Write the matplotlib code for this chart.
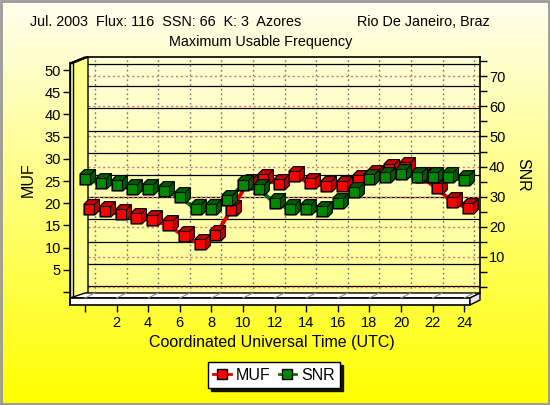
import numpy as np
import matplotlib
matplotlib.use("Agg")
import matplotlib.pyplot as plt
from matplotlib.path import Path
from matplotlib.patches import Polygon, Rectangle
from matplotlib.lines import Line2D
import matplotlib.transforms as mtrans

plt.rcParams['font.family'] = ['Liberation Sans', 'DejaVu Sans']

# ---------------- data ----------------
hours = list(range(0, 25))
muf = [18.2, 17.7, 17.0, 16.1, 15.7, 14.5, 12.1, 10.3, 12.3, 17.9, 23.8, 24.9, 23.8,
       25.6, 24.0, 23.3, 23.3, 24.7, 25.8, 27.2, 27.6, 25.4, 22.9, 19.7, 18.4]
snr = [37.9, 36.5, 35.9, 34.6, 34.6, 33.9, 31.9, 27.9, 27.9, 30.9, 35.9, 34.6, 29.9,
       27.9, 27.9, 27.2, 29.9, 33.6, 37.9, 38.5, 39.5, 38.5, 38.5, 38.5, 37.5]
muf_ticks = list(range(0, 51, 5))
snr_ticks = list(range(0, 71, 10))
snr_minor = list(range(5, 80, 10))
hour_ticks = list(range(0, 25, 2))
title_left = "Jul. 2003  Flux: 116  SSN: 66  K: 3  Azores"
title_right = "Rio De Janeiro, Braz"
title2 = "Maximum Usable Frequency"
xlabel = "Coordinated Universal Time (UTC)"
series_names = ["MUF", "SNR"]

W, H = 550, 405
fig = plt.figure(figsize=(W / 100, H / 100), dpi=100)


def fpos(x0, x1, ytop, ybot):
    return [x0 / W, 1 - ybot / H, (x1 - x0) / W, (ybot - ytop) / H]


# ---------------- background ----------------
bg = fig.add_axes([0, 0, 1, 1], zorder=0)
bg.set_xlim(0, W)
bg.set_ylim(H, 0)
bg.axis('off')
top_c = np.array([255, 254, 240]) / 255
bot_c = np.array([255, 255, 0]) / 255
t = np.linspace(0, 1, 256)[:, None, None]
grad = top_c * (1 - t) + bot_c * t
bg.imshow(grad, extent=[0, W, H, 0], aspect='auto', zorder=0)
bg.add_patch(Rectangle((1, 1), W - 2.5, H - 2.5, fill=False, ec='#9a9a9a', lw=2, zorder=1))

# ---------------- back wall ----------------
axb = fig.add_axes(fpos(88, 480, 57, 293), zorder=1)
axb.set_xlim(-0.443, 24.37)
axb.set_ylim(-1.577, 51.58)
t2 = np.linspace(0, 1, 128)[:, None, None]
wall_top = np.array([255, 255, 215]) / 255
wall_bot = np.array([255, 255, 150]) / 255
wgrad = wall_top * (1 - t2) + wall_bot * t2
axb.imshow(wgrad, extent=[-0.443, 24.37, -1.577, 51.58], origin='upper',
           aspect='auto', zorder=0)
axb.set_xticks(hour_ticks)
axb.set_yticks(muf_ticks)
axb.grid(axis='y', color='black', lw=0.9, ls='-')
axb.grid(axis='x', color='#707070', lw=1.0, ls=(0, (1.2, 2.2)))
axb.set_axisbelow(False)
axb.tick_params(length=0, labelbottom=False, labelleft=False)
for s in ['left', 'bottom', 'right']:
    axb.spines[s].set_visible(False)
axb.spines['top'].set_linewidth(1.2)

axb2 = axb.twinx()
axb2.set_zorder(2)
axb2.set_ylim(-1.99, 76.41)
axb2.set_yticks(snr_ticks)
axb2.set_yticks(snr_minor, minor=True)
axb2.set_yticklabels(['' if v == 0 else str(v) for v in snr_ticks])
axb2.grid(axis='y', which='major', color='#e07070', lw=1.0, ls=(0, (1.5, 2.0)))
axb2.tick_params(axis='y', which='both', direction='out', length=5, width=1,
                 labelsize=10.5, pad=1.5)
for s in ['left', 'bottom', 'top']:
    axb2.spines[s].set_visible(False)
axb2.spines['right'].set_linewidth(1.2)
axb2.patch.set_visible(False)

# ---------------- floor & left wall ----------------
deco = fig.add_axes([0, 0, 1, 1], zorder=3)
deco.set_xlim(0, W)
deco.set_ylim(H, 0)
deco.axis('off')
deco.patch.set_visible(False)
# left wall slab
deco.add_patch(Polygon([(73, 63), (88, 57), (88, 293), (73, 298)], closed=True,
                       fc='#ffff8c', ec='black', lw=1))
deco.add_patch(Polygon([(70, 63), (73, 63), (88, 57), (85, 57)], closed=True,
                       fc='#ffffc0', ec='black', lw=1))
deco.add_patch(Polygon([(70, 63), (73, 63), (73, 298), (70, 298)], closed=True,
                       fc='#ffffb0', ec='black', lw=1))
# floor slab
deco.add_patch(Polygon([(70, 298), (470, 298), (480, 293), (85, 293)], closed=True,
                       fc='white', ec='black', lw=1))
deco.add_patch(Polygon([(70, 298), (470, 298), (470, 305), (70, 305)], closed=True,
                       fc='white', ec='black', lw=1.2))
deco.add_patch(Polygon([(470, 298), (480, 293), (480, 300), (470, 305)], closed=True,
                       fc='#e8e8e8', ec='black', lw=1))

# ---------------- front axes (MUF) ----------------
ax = fig.add_axes(fpos(70, 470, 63, 305), zorder=4)
ax.set_xlim(-0.949, 24.37)
ax.set_ylim(-2.93, 51.58)
ax.patch.set_visible(False)
for s in ['top', 'right', 'bottom']:
    ax.spines[s].set_visible(False)
ax.spines['left'].set_bounds(-2.93, 51.58)
ax.spines['left'].set_linewidth(1.2)
ax.set_yticks(muf_ticks)
ax.set_yticklabels(['' if v == 0 else str(v) for v in muf_ticks])
ax.set_xticks(hour_ticks)
ax.set_xticklabels(['' if v == 0 else str(v) for v in hour_ticks])
ax.tick_params(axis='y', direction='out', length=5, width=1, labelsize=10.5, pad=1.5)
ax.tick_params(axis='x', direction='out', length=5, width=1, labelsize=10.5, pad=3,
               colors='black')

# floor grid marks (depth lines at each even hour)
for h in hour_ticks:
    p0 = ax.transData.transform((h, 0))
    deco_pts = deco.transData.inverted().transform([p0, p0 + np.array([10, 5])])
    deco.plot([deco_pts[0][0], deco_pts[1][0]], [298, 293], color='#909090', lw=0.8)

axg = ax.twinx()
axg.set_zorder(5)
axg.set_ylim(-3.99, 76.41)
axg.axis('off')

# ---------------- cube markers ----------------
d = 0.4
hex_path = Path([(-0.5, -0.5), (0.5, -0.5), (0.5 + d, -0.5 + d), (0.5 + d, 0.5 + d),
                 (-0.5 + d, 0.5 + d), (-0.5, 0.5), (-0.5, -0.5)],
                [Path.MOVETO] + [Path.LINETO] * 5 + [Path.CLOSEPOLY])
diag_path = Path([(0.5, 0.5), (0.5 + d, 0.5 + d)], [Path.MOVETO, Path.LINETO])
ms_f = 7.9
ms_c = ms_f * (0.5 + d) / 0.5


def cubes(a, x, y, face, side, line, trans):
    a.plot(x, y, color=line, lw=2.8, transform=trans, zorder=2, solid_capstyle='round',
           clip_on=False)
    a.plot(x, y, ls='none', marker=hex_path, ms=ms_c, mfc=side, mec='black', mew=0.8,
           transform=trans, zorder=3, clip_on=False)
    a.plot(x, y, ls='none', marker='s', ms=ms_f, mfc=face, mec='black', mew=0.8,
           transform=trans, zorder=4, clip_on=False)
    a.plot(x, y, ls='none', marker=diag_path, ms=ms_c, mec='black', mew=0.8,
           transform=trans, zorder=5, clip_on=False)


tr_red = mtrans.offset_copy(ax.transData, fig=fig, x=4, y=2.4, units='dots')
cubes(ax, hours, muf, '#ff0000', '#c40000', '#e00000', tr_red)
cubes(axg, hours, snr, '#008a00', '#005c00', '#007a00', axg.transData)

# ---------------- texts ----------------
fig.text(30 / W, 1 - 22 / H, title_left, ha='left', va='center', fontsize=10.35)
fig.text(357 / W, 1 - 22 / H, title_right, ha='left', va='center', fontsize=10.35)
fig.text(261 / W, 1 - 42 / H, title2, ha='center', va='center', fontsize=10.35)
fig.text(28 / W, 1 - 180 / H, "MUF", rotation=90, ha='center', va='center', fontsize=11.5)
fig.text(523 / W, 1 - 175 / H, "SNR", rotation=270, ha='center', va='center', fontsize=11.5)
fig.text(272 / W, 1 - 343 / H, xlabel, ha='center', va='center', fontsize=11.5)

handles = [Line2D([], [], color='#e00000', lw=2, marker='s', ms=7, mfc='#ff0000', mec='black'),
           Line2D([], [], color='#007a00', lw=2, marker='s', ms=7, mfc='#008a00', mec='black')]
leg = fig.legend(handles, series_names, loc='center',
                 bbox_to_anchor=(274 / W, 1 - 375 / H), ncol=2, frameon=True,
                 fancybox=False, shadow={'color': 'black', 'alpha': 0.9}, edgecolor='black',
                 framealpha=1, facecolor='white', handlelength=1.1, handletextpad=0.3,
                 columnspacing=0.5, borderpad=0.35, fontsize=11.5)
leg.get_frame().set_linewidth(1.0)

fig.savefig("out.png", dpi=100)
